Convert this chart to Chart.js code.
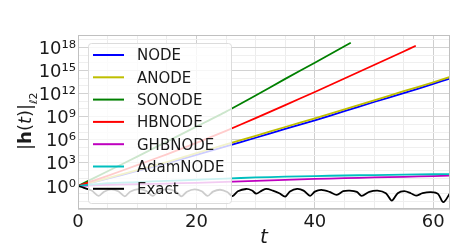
<!DOCTYPE html>
<html>
<head>
<meta charset="utf-8">
<script src="https://cdn.jsdelivr.net/npm/chart.js@4.4.1/dist/chart.umd.min.js"></script>
<style>
  html, body { margin: 0; padding: 0; background: #fff; }
  #wrap { width: 454px; height: 246px; position: relative; }
</style>
</head>
<body>
<div id="wrap"><canvas id="chart"></canvas></div>
<script>
// --- Data (|h(t)| on a log axis) ---
const tSteps = [0, 5, 10, 15, 20, 25, 30, 35, 40, 45, 50, 55, 60, 62.83];
const nodeVals = [1, 8.9, 89, 890, 1.1e4, 1.4e5, 1.8e6, 2.5e7, 3.2e8, 5.0e9, 7.9e10, 1.1e12, 1.8e13, 8.9e13];
const anodeVals = [1, 10, 112, 1.26e3, 1.78e4, 2.51e5, 3.16e6, 4.47e7, 6.03e8, 8.91e9, 1.26e11, 2.0e12, 2.82e13, 1.41e14];
const ghbnodeVals = [1, 1.41, 1.66, 2.0, 2.51, 3.31, 4.57, 6.03, 7.94, 10, 12.6, 15.1, 19.1, 21.4];
const adamnodeVals = [1, 2.24, 3.16, 4.47, 6.31, 8.91, 12.6, 15.8, 19.1, 22.4, 25.7, 28.8, 32.4, 34.7];

const sonodeT = [0, 5, 10, 15, 20, 25, 30, 35, 40, 45, 46.07];
const sonodeVals = [1, 79.4, 6.31e3, 5.62e5, 5.01e7, 4.47e9, 5.62e11, 7.94e13, 1e16, 1.41e18, 3.98e18];

const hbnodeT = [0, 5, 10, 15, 20, 25, 30, 35, 40, 45, 50, 55, 57.05];
const hbnodeVals = [1, 20, 501, 1.26e4, 3.98e5, 1.41e7, 6.31e8, 3.16e10, 1.58e12, 8.91e13, 5.01e15, 2.82e17, 1.58e18];

const exactT = [0, 1.0, 2.3, 3.5, 4.4, 5.6, 6.8, 7.9, 8.8, 10.2, 11.5, 12.6, 13.5, 15.0, 16.4, 17.5,
  18.4, 19.7, 20.9, 21.9, 22.8, 24.0, 25.2, 26.1, 27.0, 28.4, 29.4, 30.1, 31.05, 31.8, 32.9, 34.0,
  35.0, 35.8, 37.0, 38.1, 39.2, 40.0, 41.1, 42.5, 43.7, 44.8, 45.9, 47.1, 47.9, 49.2, 50.6, 52.0,
  53.0, 54.0, 55.1, 56.2, 57.1, 58.2, 59.6, 60.8, 61.7, 62.83];
const exactVals = [1, 0.562, 0.251, 0.0501, 0.178, 0.355, 0.2, 0.0447, 0.178, 0.38, 0.224, 0.0501, 0.178, 0.38, 0.2, 0.0447,
  0.178, 0.355, 0.2, 0.0501, 0.178, 0.316, 0.158, 0.0479, 0.2, 0.398, 0.251, 0.1, 0.245, 0.407, 0.245, 0.112,
  0.0407, 0.182, 0.407, 0.245, 0.0501, 0.182, 0.302, 0.166, 0.0676, 0.204, 0.245, 0.166, 0.0501, 0.166, 0.245, 0.112,
  0.0126, 0.112, 0.204, 0.112, 0.055, 0.112, 0.151, 0.0912, 0.00759, 0.112];

const seriesLabels = ["NODE", "ANODE", "SONODE", "HBNODE", "GHBNODE", "AdamNODE", "Exact"];
const seriesColors = ["#0000ff", "#bfbf00", "#008000", "#ff0000", "#bf00bf", "#00bfbf", "#000000"];

const xTicks = [0, 5, 10, 15, 20, 25, 30, 35, 40, 45, 50, 55, 60];
const xTickLabels = ["0", "20", "40", "60"];
const yTickExps = [0, 3, 6, 9, 12, 15, 18];
const yTickLabels = ["10\u2070", "10\u00b3", "10\u2076", "10\u2079", "10\u00b9\u00b2", "10\u00b9\u2075", "10\u00b9\u2078"];

// --- helpers ---
const zip = (ts, vs) => ts.map((t, i) => ({ x: t, y: vs[i] }));
const series = [
  zip(tSteps, nodeVals),
  zip(tSteps, anodeVals),
  zip(sonodeT, sonodeVals),
  zip(hbnodeT, hbnodeVals),
  zip(tSteps, ghbnodeVals),
  zip(tSteps, adamnodeVals),
  zip(exactT, exactVals)
];

const FONT = "'DejaVu Sans', sans-serif";

// legend box inside the plot + frame
const legendBoxPlugin = {
  id: "legendBox",
  afterDatasetsDraw(chart) {
    const ctx = chart.ctx;
    const a = chart.chartArea;
    ctx.save();
    ctx.strokeStyle = "#c0c0c0";
    ctx.lineWidth = 1;
    ctx.strokeRect(a.left + 0.5, a.top + 0.5, a.right - a.left - 1, a.bottom - a.top - 1);

    ctx.beginPath();
    ctx.roundRect(88.5, 43.5, 143, 160, 3);
    ctx.fillStyle = "rgba(255,255,255,0.8)";
    ctx.fill();
    ctx.strokeStyle = "#dcdcdc";
    ctx.stroke();

    chart.data.datasets.forEach((ds, i) => {
      const y = 55 + i * 22.3;
      ctx.strokeStyle = ds.borderColor;
      ctx.lineWidth = 2;
      ctx.beginPath();
      ctx.moveTo(93, y);
      ctx.lineTo(124, y);
      ctx.stroke();
      ctx.fillStyle = "#1a1a1a";
      ctx.font = "15px " + FONT;
      ctx.textBaseline = "alphabetic";
      ctx.fillText(ds.label, 137, y + 5.4);
    });
    ctx.restore();
  }
};

// y-axis title |h(t)|_{l2} with mixed fonts
const yTitlePlugin = {
  id: "yTitle",
  afterDraw(chart) {
    const ctx = chart.ctx;
    ctx.save();
    ctx.translate(31, 150);
    ctx.rotate(-Math.PI / 2);
    ctx.fillStyle = "#1a1a1a";
    ctx.textBaseline = "alphabetic";
    const parts = [
      ["|", "18px " + FONT],
      ["h", "bold 18px " + FONT],
      ["(", "18px " + FONT],
      ["t", "italic 18px " + FONT],
      [")|", "18px " + FONT]
    ];
    let x = 0;
    parts.forEach(([s, f]) => {
      ctx.font = f;
      ctx.fillText(s, x, 0);
      x += ctx.measureText(s).width;
    });
    ctx.font = "italic 11px " + FONT;
    ctx.fillText("\u2113", x, 6);
    x += ctx.measureText("\u2113").width;
    ctx.font = "11px " + FONT;
    ctx.fillText("2", x, 6);
    ctx.restore();
  }
};

new Chart(document.getElementById("chart"), {
  type: "line",
  data: {
    datasets: series.map((pts, i) => ({
      label: seriesLabels[i],
      data: pts,
      borderColor: seriesColors[i],
      backgroundColor: seriesColors[i],
      borderWidth: 1.8,
      pointRadius: 0,
      fill: false,
      tension: i === 6 ? 0.3 : 0.2,
      order: -i
    }))
  },
  options: {
    responsive: true,
    maintainAspectRatio: false,
    animation: false,
    layout: { padding: { top: 35, right: 4, left: 0, bottom: 0 } },
    plugins: { legend: { display: false }, tooltip: { enabled: false } },
    scales: {
      x: {
        type: "linear",
        min: 0,
        max: 62.83,
        afterFit: s => { s.height = 37; },
        afterBuildTicks: s => { s.ticks = xTicks.map(v => ({ value: v })); },
        border: { display: false },
        grid: {
          drawTicks: false,
          color: c => (c.tick && c.tick.value % 20 === 0 ? "#cfcfcf" : "#ececec")
        },
        ticks: {
          autoSkip: false,
          maxRotation: 0,
          padding: 3,
          color: "#1a1a1a",
          font: { family: FONT, size: 18 },
          callback: v => (v % 20 === 0 ? xTickLabels[v / 20] : "")
        },
        title: {
          display: true,
          text: "t",
          color: "#1a1a1a",
          padding: { top: 0, bottom: 0 },
          font: { family: FONT, size: 20, style: "italic", lineHeight: 0.8 }
        }
      },
      y: {
        type: "logarithmic",
        min: 1e-3,
        max: 3.98e19,
        afterFit: s => { s.width = 78; },
        afterBuildTicks: s => {
          const t = [];
          for (let e = -3; e <= 19; e++) t.push({ value: Math.pow(10, e) });
          s.ticks = t;
        },
        border: { display: false },
        grid: {
          drawTicks: false,
          color: c => {
            const e = Math.round(Math.log10(c.tick.value));
            return e % 3 === 0 ? "#d2d2d2" : "#efefef";
          }
        },
        ticks: {
          autoSkip: false,
          padding: 2,
          labelOffset: 2,
          color: "#1a1a1a",
          font: { family: FONT, size: 18 },
          callback: v => {
            const e = Math.round(Math.log10(v));
            const k = yTickExps.indexOf(e);
            return k >= 0 ? yTickLabels[k] : "";
          }
        }
      }
    }
  },
  plugins: [legendBoxPlugin, yTitlePlugin]
});
</script>
</body>
</html>
